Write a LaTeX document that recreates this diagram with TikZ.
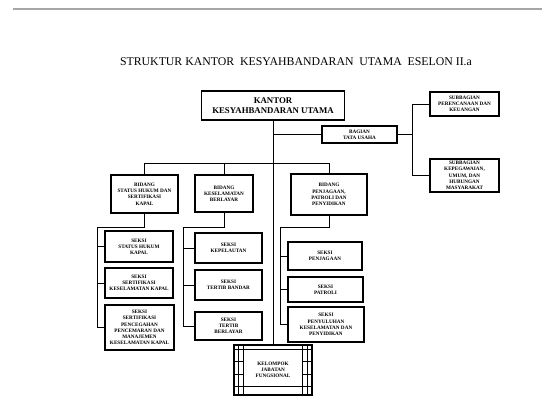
\documentclass[tikz,border=0pt]{standalone}
\usepackage{fontspec}
\setmainfont{Liberation Serif}
\begin{document}
\begin{tikzpicture}[x=1pt,y=-1pt,
  box/.style={draw,line width=1.1pt,rectangle,align=center,inner sep=0pt,font=\fontsize{5.2}{6.2}\selectfont\bfseries},
  line/.style={draw,line width=0.7pt,-}]
\useasboundingbox (0,0) rectangle (542,402);
\draw[gray!70,line width=1.6pt] (13,9) -- (542,9);
\node[font=\fontsize{11.8}{13}\selectfont] (judul) at (296,62) {STRUKTUR KANTOR\ \ KESYAHBANDARAN\ \ UTAMA\ \ ESELON II.a};

% pimpinan dan tata usaha
\node[box,minimum width=143pt,minimum height=29pt,font=\fontsize{8.8}{10}\selectfont\bfseries] (kantor) at (273,105.5) {KANTOR\\KESYAHBANDARAN UTAMA};
\node[box,minimum width=75pt,minimum height=17pt] (tu) at (359.5,134.5) {BAGIAN\\TATA USAHA};
\node[box,minimum width=69pt,minimum height=24pt] (renkeu) at (464.5,104) {SUBBAGIAN\\PERENCANAAN DAN\\KEUANGAN};
\node[box,minimum width=69pt,minimum height=33pt] (kepeg) at (464.5,175.5) {SUBBAGIAN\\KEPEGAWAIAN,\\UMUM, DAN\\HUBUNGAN\\MASYARAKAT};

% bidang
\node[box,minimum width=67pt,minimum height=38pt] (bid1) at (144.5,194) {BIDANG\\STATUS HUKUM DAN\\SERTIFIKASI\\KAPAL};
\node[box,minimum width=58pt,minimum height=37pt] (bid2) at (224,193.5) {BIDANG\\KESELAMATAN\\BERLAYAR};
\node[box,minimum width=76pt,minimum height=41pt] (bid3) at (329,194.5) {BIDANG\\PENJAGAAN,\\PATROLI DAN\\PENYIDIKAN};

% seksi
\node[box,minimum width=68pt,minimum height=31pt] (s1a) at (139,246.5) {SEKSI\\STATUS HUKUM\\KAPAL};
\node[box,minimum width=68pt,minimum height=30pt] (s1b) at (139,283) {SEKSI\\SERTIFIKASI\\KESELAMATAN KAPAL};
\node[box,minimum width=69pt,minimum height=45pt] (s1c) at (139.5,327.5) {SEKSI\\SERTIFIKASI\\PENCEGAHAN\\PENCEMARAN DAN\\MANAJEMEN\\KESELAMATAN KAPAL};
\node[box,minimum width=67pt,minimum height=30pt] (s2a) at (228.5,248) {SEKSI\\KEPELAUTAN};
\node[box,minimum width=67pt,minimum height=30pt] (s2b) at (228.5,285) {SEKSI\\TERTIB BANDAR};
\node[box,minimum width=67pt,minimum height=28pt] (s2c) at (228.5,326) {SEKSI\\TERTIB\\BERLAYAR};
\node[box,minimum width=74pt,minimum height=28pt] (s3a) at (325,256) {SEKSI\\PENJAGAAN};
\node[box,minimum width=75pt,minimum height=25pt] (s3b) at (325.5,289.5) {SEKSI\\PATROLI};
\node[box,minimum width=76pt,minimum height=35pt] (s3c) at (326,324.5) {SEKSI\\PENYULUHAN\\KESELAMATAN DAN\\PENYIDIKAN};

% kelompok jabatan fungsional
\node[box,minimum width=78pt,minimum height=50pt] (kjf) at (273,370) {KELOMPOK\\JABATAN\\FUNGSIONAL};
\foreach \dx in {5,10} {
  \draw[line width=0.7pt] ([xshift=\dx pt]kjf.north west) -- ([xshift=\dx pt]kjf.south west);
  \draw[line width=0.7pt] ([xshift=-\dx pt]kjf.north east) -- ([xshift=-\dx pt]kjf.south east);
}
\foreach \dy in {5,42} {
  \draw[line width=0.7pt] ([yshift=-\dy pt]kjf.north west) -- ([yshift=-\dy pt]kjf.north east);
}
\foreach \dy in {17,30} {
  \draw[line width=0.7pt] ([yshift=-\dy pt]kjf.north west) -- ([yshift=-\dy pt,xshift=10pt]kjf.north west);
  \draw[line width=0.7pt] ([yshift=-\dy pt]kjf.north east) -- ([yshift=-\dy pt,xshift=-10pt]kjf.north east);
}

% garis
\coordinate (bbus) at (273,163);
\coordinate (tubus) at (412,134.5);
\coordinate (bus1) at (97,227);
\coordinate (bus2) at (183,227);
\coordinate (bus3) at (280,227);

\path[line] (kantor.south) -- (kjf.north);
\path[line] (kantor.south |- tu.west) -- (tu.west);
\path[line] (tu.east) -- (tubus);
\path[line] (renkeu.west) -| (tubus |- kepeg.west) -- (kepeg.west);
\path[line] (bid1.north) |- (bid3.north |- bbus) -- (bid3.north);
\path[line] (bid2.north) -- (bid2.north |- bbus);

\path[line] (bid1.south) |- (bus1) -- (bus1 |- s1c.west) -- (s1c.west);
\path[line] (bus1 |- s1a.west) -- (s1a.west);
\path[line] (bus1 |- s1b.west) -- (s1b.west);
\path[line] (bid2.south) |- (bus2) -- (bus2 |- s2c.west) -- (s2c.west);
\path[line] (bus2 |- s2a.west) -- (s2a.west);
\path[line] (bus2 |- s2b.west) -- (s2b.west);
\path[line] (bid3.south) |- (bus3) -- (bus3 |- s3c.west) -- (s3c.west);
\path[line] (bus3 |- s3a.west) -- (s3a.west);
\path[line] (bus3 |- s3b.west) -- (s3b.west);
\end{tikzpicture}
\end{document}
